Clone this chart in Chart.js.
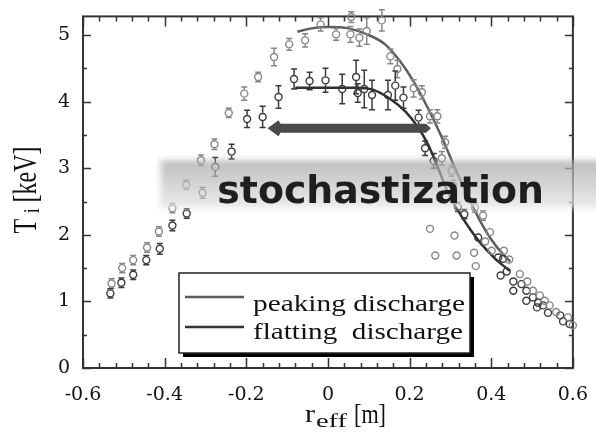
<!DOCTYPE html>
<html>
<head>
<meta charset="utf-8">
<script src="https://cdn.jsdelivr.net/npm/chart.js@4.4.0/dist/chart.umd.min.js"></script>
<style>
html, body { margin: 0; padding: 0; background: #fff; }
</style>
</head>
<body>
<canvas id="myChart" width="596" height="435"></canvas>
<script>
let ctx = document.getElementById('myChart').getContext('2d')

// axis ticks
const xTicks = [-0.6, -0.4, -0.2, 0, 0.2, 0.4, 0.6]
const yTicks = [0, 1, 2, 3, 4, 5]

// peaking discharge  (r_eff [m], Ti [keV], error)
const peakX = [-0.530, -0.504, -0.477, -0.443, -0.414, -0.381, -0.347, -0.311, -0.278, -0.243,
  -0.205, -0.171, -0.132, -0.095, -0.056, -0.018, 0.020, 0.055, 0.057, 0.077,
  0.095, 0.132, 0.153, 0.170, 0.210, 0.230, 0.250, 0.268, 0.287, 0.279,
  0.303, 0.307, 0.360, 0.380,
  0.250, 0.310, 0.263, 0.315, 0.358, 0.362,
  0.397, 0.385, 0.401, 0.431, 0.444, 0.470, 0.488, 0.502, 0.519, 0.531, 0.543, 0.559, 0.588, 0.600]
const peakY = [1.27, 1.50, 1.62, 1.81, 2.05, 2.40, 2.75, 3.12, 3.36, 3.83,
  4.12, 4.37, 4.67, 4.86, 4.92, 5.16, 5.01, 5.01, 5.27, 4.96,
  5.06, 5.22, 4.68, 4.49, 4.20, 4.14, 3.78, 3.78, 3.39, 3.15,
  2.96, 2.74, 2.41, 2.29,
  2.09, 1.99, 1.69, 1.69, 1.73, 1.53,
  2.04, 1.90, 1.76, 1.76, 1.63, 1.41, 1.30, 1.16, 1.09, 1.01, 0.94, 0.84, 0.76, 0.64]
const peakErr = [0.07, 0.07, 0.07, 0.07, 0.07, 0.07, 0.07, 0.08, 0.08, 0.07,
  0.10, 0.07, 0.13, 0.09, 0.10, 0.10, 0.09, 0.12, 0.08, 0.13,
  0.20, 0.16, 0.11, 0.13, 0.13, 0.10, 0.10, 0.10, 0.09, 0.10,
  0.08, 0.08, 0.07, 0.07]

// flatting discharge
const flatX = [-0.533, -0.506, -0.477, -0.445, -0.412, -0.381, -0.346, -0.307, -0.276, -0.236,
  -0.198, -0.160, -0.121, -0.083, -0.045, -0.006, 0.035, 0.069, 0.073, 0.089,
  0.108, 0.147, 0.165, 0.185, 0.222, 0.238, 0.259, 0.318, 0.334,
  0.368, 0.417, 0.429, 0.423, 0.438, 0.454, 0.474, 0.454, 0.486, 0.486,
  0.502, 0.515, 0.512, 0.527, 0.539, 0.569, 0.576, 0.592]
const flatY = [1.12, 1.28, 1.40, 1.62, 1.79, 2.14, 2.32, 2.63, 3.02, 3.25,
  3.74, 3.77, 4.07, 4.34, 4.31, 4.32, 4.19, 4.37, 4.13, 4.19,
  4.10, 4.10, 4.24, 4.06, 3.76, 3.30, 3.11, 2.42, 2.31,
  1.96, 1.66, 1.64, 1.39, 1.45, 1.30, 1.26, 1.16, 1.16, 1.01,
  1.06, 0.98, 0.91, 0.94, 0.83, 0.79, 0.70, 0.66]
const flatErr = [0.07, 0.07, 0.07, 0.07, 0.08, 0.08, 0.07, 0.08, 0.14, 0.11,
  0.13, 0.16, 0.17, 0.15, 0.13, 0.18, 0.22, 0.25, 0.14, 0.28,
  0.22, 0.22, 0.22, 0.16, 0.11, 0.11, 0.11, 0.07, 0.07]

// fitted profiles
const peakFitX = [-0.075, -0.04, 0.0, 0.05, 0.10, 0.14, 0.175, 0.21, 0.245, 0.28, 0.31, 0.34, 0.37, 0.40, 0.43, 0.447]
const peakFitY = [5.05, 5.10, 5.12, 5.10, 5.00, 4.86, 4.62, 4.30, 3.90, 3.45, 3.02, 2.62, 2.24, 1.93, 1.70, 1.60]
const flatFitX = [-0.08, 0.0, 0.07, 0.11, 0.15, 0.19, 0.22, 0.245, 0.27, 0.295, 0.325, 0.35, 0.376, 0.41, 0.445]
const flatFitY = [4.21, 4.21, 4.21, 4.18, 4.05, 3.85, 3.62, 3.36, 3.00, 2.62, 2.30, 2.07, 1.86, 1.64, 1.46]

// annotation spots (data units)
const bandLeft = -0.41, bandTop = 3.12, bandBottom = 2.40
const stochX = -0.271, stochY = 2.48
const arrowFrom = 0.245, arrowTo = -0.148, arrowY = 3.6

const lightGray = '#868686'
const darkGray = '#3a3a3a'

const toPoints = (xs, ys) => xs.map((v, i) => ({x: v, y: ys[i]}))

// stretch a text to a given width
const fitText = (c, str, x, y, font, w) => {
    c.font = font
    let s = w / c.measureText(str).width
    c.save()
    c.translate(x, y)
    c.scale(s, 1)
    c.fillText(str, 0, 0)
    c.restore()
}

const frame = {
    id: 'frame',
    beforeDatasetsDraw(chart) {
        const {ctx, chartArea: a, scales: {x, y}} = chart
        ctx.save()
        ctx.strokeStyle = '#333'
        ctx.lineWidth = 2
        ctx.strokeRect(a.left, a.top, a.right - a.left, a.bottom - a.top)
        ctx.lineWidth = 1.5
        ctx.beginPath()
        for (let i = 0; i <= 30; i++) {
            let px = Math.round(x.getPixelForValue(-0.6 + i * 0.04)) + 0.5
            let len = i % 5 === 0 ? 10 : 5
            ctx.moveTo(px, a.bottom); ctx.lineTo(px, a.bottom - len)
            ctx.moveTo(px, a.top); ctx.lineTo(px, a.top + len)
        }
        for (let i = 0; i <= 10; i++) {
            let py = Math.round(y.getPixelForValue(i * 0.5)) + 0.5
            let len = i % 2 === 0 ? 8 : 4
            ctx.moveTo(a.left, py); ctx.lineTo(a.left + len, py)
            ctx.moveTo(a.right, py); ctx.lineTo(a.right - len, py)
        }
        ctx.stroke()
        ctx.restore()
    }
}

const errorBars = {
    id: 'errorBars',
    afterDatasetsDraw(chart) {
        const {ctx, scales: {x, y}} = chart
        ctx.save()
        ctx.lineWidth = 1.5
        chart.data.datasets.forEach(ds => {
            if (!ds.errors) return
            ctx.strokeStyle = ds.borderColor
            ctx.beginPath()
            ds.data.forEach((p, j) => {
                let e = ds.errors[j] || 0
                if (!e) return
                let px = x.getPixelForValue(p.x)
                let py = y.getPixelForValue(p.y)
                let top = y.getPixelForValue(p.y + e)
                let bot = y.getPixelForValue(p.y - e)
                let r = ds.pointRadius + 0.6
                if (top < py - r) { ctx.moveTo(px, top); ctx.lineTo(px, py - r) }
                if (bot > py + r) { ctx.moveTo(px, py + r); ctx.lineTo(px, bot) }
                ctx.moveTo(px - 3, top); ctx.lineTo(px + 3, top)
                ctx.moveTo(px - 3, bot); ctx.lineTo(px + 3, bot)
            })
            ctx.stroke()
        })
        ctx.restore()
    }
}

const overlay = {
    id: 'overlay',
    afterDraw(chart) {
        const {ctx, scales: {x, y}} = chart
        ctx.save()
        // gray band behind the word
        let bl = x.getPixelForValue(bandLeft)
        let bt = y.getPixelForValue(bandTop)
        let bb = y.getPixelForValue(bandBottom)
        ctx.filter = 'blur(3px)'
        let g = ctx.createLinearGradient(0, bt, 0, bb)
        g.addColorStop(0, 'rgba(165,165,165,0.72)')
        g.addColorStop(0.45, 'rgba(192,192,192,0.7)')
        g.addColorStop(1, 'rgba(230,230,230,0.75)')
        ctx.fillStyle = g
        ctx.fillRect(bl, bt, chart.width - bl + 10, bb - bt)
        ctx.filter = 'none'

        ctx.fillStyle = '#1e1e1e'
        ctx.textBaseline = 'alphabetic'
        let sx = x.getPixelForValue(stochX)
        fitText(ctx, 'stochastization', sx, y.getPixelForValue(stochY), 'bold 37px "DejaVu Sans"', x.getPixelForValue(0.529) - sx)

        // arrow
        let ax0 = x.getPixelForValue(arrowFrom)
        let ax1 = x.getPixelForValue(arrowTo)
        let ay = y.getPixelForValue(arrowY)
        ctx.fillStyle = '#4a4a4a'
        ctx.beginPath()
        ctx.moveTo(ax0 + 3, ay)
        ctx.lineTo(ax0 - 2, ay - 4.5)
        ctx.lineTo(ax1 + 13, ay - 4.5)
        ctx.lineTo(ax1 + 11, ay - 8)
        ctx.lineTo(ax1, ay)
        ctx.lineTo(ax1 + 11, ay + 8)
        ctx.lineTo(ax1 + 13, ay + 4.5)
        ctx.lineTo(ax0 - 2, ay + 4.5)
        ctx.closePath()
        ctx.fill()

        // legend box
        let L = 179, T = 273, R = 470, B = 353
        ctx.fillStyle = '#000'
        ctx.fillRect(L + 4, B, R - L, 4)
        ctx.fillRect(R, T + 4, 4, B - T)
        ctx.fillStyle = '#fff'
        ctx.fillRect(L, T, R - L, B - T)
        ctx.strokeStyle = '#222'
        ctx.lineWidth = 1.5
        ctx.strokeRect(L, T, R - L, B - T)
        ctx.lineWidth = 2.5
        ctx.strokeStyle = '#5a5a5a'
        ctx.beginPath(); ctx.moveTo(185, 297); ctx.lineTo(244, 297); ctx.stroke()
        ctx.strokeStyle = '#333'
        ctx.beginPath(); ctx.moveTo(185, 327); ctx.lineTo(244, 327); ctx.stroke()
        ctx.fillStyle = '#111'
        fitText(ctx, 'peaking discharge', 253, 311, '24px "Liberation Serif"', 212)
        fitText(ctx, 'flatting  discharge', 253, 339, '24px "Liberation Serif"', 210)

        // axis titles
        ctx.save()
        ctx.translate(36, 190)
        ctx.rotate(-Math.PI / 2)
        ctx.scale(1, 1.4)
        ctx.font = '24px "Liberation Serif"'
        let wT = ctx.measureText('T ').width
        let wK = ctx.measureText(' [keV]').width
        ctx.font = '16px "Liberation Serif"'
        let wi = ctx.measureText('i').width
        let x0 = -(wT + wi + wK) / 2
        ctx.font = '24px "Liberation Serif"'
        ctx.fillText('T', x0, 0)
        ctx.font = '16px "Liberation Serif"'
        ctx.fillText('i', x0 + wT, 2)
        ctx.font = '24px "Liberation Serif"'
        ctx.fillText(' [keV]', x0 + wT + wi, 0)
        ctx.restore()

        fitText(ctx, 'r', 305, 422, '25px "Liberation Serif"', 10)
        fitText(ctx, 'eff', 316, 427, '19px "Liberation Serif"', 31)
        fitText(ctx, '[m]', 354, 423, '27px "Liberation Serif"', 32)
        ctx.restore()
    }
}

const tickFont = {family: '"DejaVu Serif"', size: 19}

let chart = new Chart(ctx, {
    type: 'scatter',
    data: {
        datasets: [
            {
                label: 'peaking discharge',
                data: toPoints(peakX, peakY),
                errors: peakErr,
                borderColor: lightGray,
                backgroundColor: 'rgba(0,0,0,0)',
                pointRadius: 3.5,
                pointBorderWidth: 1.4,
                clip: false
            },
            {
                label: 'flatting discharge',
                data: toPoints(flatX, flatY),
                errors: flatErr,
                borderColor: darkGray,
                backgroundColor: 'rgba(0,0,0,0)',
                pointRadius: 3.5,
                pointBorderWidth: 1.4,
                clip: false
            },
            {
                label: 'peaking fit',
                data: toPoints(peakFitX, peakFitY),
                showLine: true,
                pointRadius: 0,
                borderColor: '#5e5e5e',
                borderWidth: 2.5,
                cubicInterpolationMode: 'monotone'
            },
            {
                label: 'flatting fit',
                data: toPoints(flatFitX, flatFitY),
                showLine: true,
                pointRadius: 0,
                borderColor: '#2e2e2e',
                borderWidth: 2.5,
                cubicInterpolationMode: 'monotone'
            }
        ]
    },
    options: {
        responsive: false,
        animation: false,
        events: [],
        layout: {padding: {top: 15, right: 21, left: 0, bottom: 0}},
        plugins: {legend: {display: false}, tooltip: {enabled: false}},
        scales: {
            x: {
                type: 'linear',
                min: -0.6,
                max: 0.6,
                afterBuildTicks: s => { s.ticks = xTicks.map(v => ({value: v})) },
                afterFit: s => { s.height = 67 },
                grid: {display: false},
                border: {display: false},
                ticks: {
                    font: tickFont,
                    color: '#111',
                    padding: 8,
                    autoSkip: false,
                    maxRotation: 0,
                    callback: v => v === 0 ? '0' : v.toFixed(1)
                }
            },
            y: {
                type: 'linear',
                min: 0,
                max: 5.28,
                afterBuildTicks: s => { s.ticks = yTicks.map(v => ({value: v})) },
                afterFit: s => { s.width = 83 },
                grid: {display: false},
                border: {display: false},
                ticks: {
                    font: tickFont,
                    color: '#111',
                    padding: 5,
                    callback: v => String(v)
                }
            }
        }
    },
    plugins: [frame, errorBars, overlay]
})
</script>
</body>
</html>
